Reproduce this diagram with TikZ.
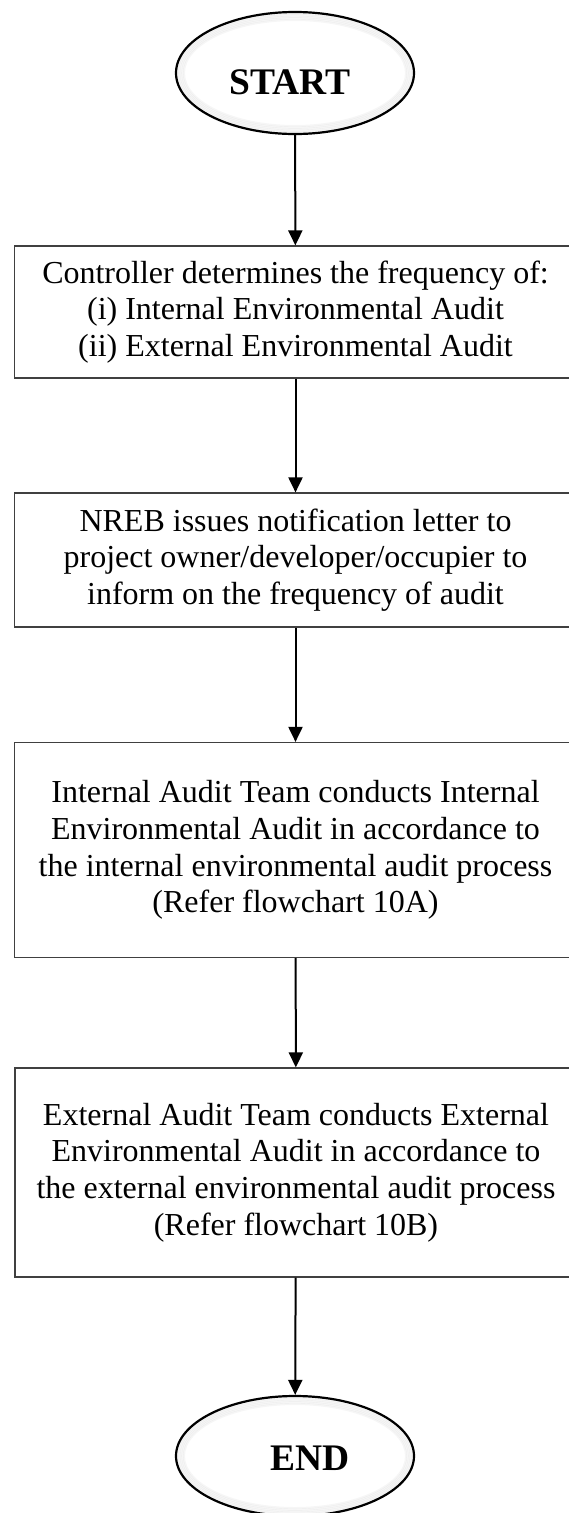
\documentclass[tikz,border=0pt]{standalone}
\usepackage{fontspec}
\setmainfont{Liberation Serif}
\usetikzlibrary{shapes.geometric,arrows.meta}
\tikzset{
  stepbox/.style={draw=black!75, line width=1.2pt, rectangle, align=center, inner sep=0pt,
    font=\fontsize{32}{36.7}\selectfont, minimum width=562pt},
  term/.style={draw=black, line width=2.2pt, ellipse, inner sep=0pt,
    minimum width=238pt, minimum height=122pt},
  termtext/.style={font=\fontsize{37.5}{42}\selectfont\bfseries},
  arr/.style={line width=2pt, -{Triangle[length=15pt,width=14pt]}},
  glow/.style={draw=black, opacity=0.035, line width=2pt}
}
\begin{document}
\begin{tikzpicture}[x=1pt,y=-1pt]
\useasboundingbox (0,0) rectangle (568,1513);
\fill[white] (0,0) rectangle (568,1513);
% START
\foreach \i in {1,...,5}{
  \draw[glow] (295,73) ellipse ({119-1.6*\i} and {61-1.6*\i});
}
\node[term, label={[termtext, yshift=-9pt, xshift=-5pt]center:START}] (start) at (295,73) {};
% boxes
\node[stepbox, minimum height=132pt] (b1) at (295.5,312) {Controller determines the frequency of:\\(i) Internal Environmental Audit\\(ii) External Environmental Audit};
\node[stepbox, minimum height=134pt] (b2) at (295.5,560) {NREB issues notification letter to\\project owner/developer/occupier to\\inform on the frequency of audit};
\node[stepbox, minimum height=215pt] (b3) at (295.5,850) {Internal Audit Team conducts Internal\\Environmental Audit in accordance to\\the internal environmental audit process\\(Refer flowchart 10A)};
\node[stepbox, minimum height=209pt] (b4) at (296,1172.5) {External Audit Team conducts External\\Environmental Audit in accordance to\\the external environmental audit process\\(Refer flowchart 10B)};
% END
\foreach \i in {1,...,5}{
  \draw[glow] (295,1456) ellipse ({119-1.6*\i} and {60-1.6*\i});
}
\node[term, minimum height=120pt, label={[termtext, yshift=-2pt, xshift=15pt]center:END}] (end) at (295,1456) {};
% connectors
\draw[arr] (start) -- (b1);
\draw[arr] (b1) -- (b2);
\draw[arr] (b2) -- (b3);
\draw[arr] (b3) -- (b4);
\draw[arr] (b4) -- (end);
\end{tikzpicture}
\end{document}
